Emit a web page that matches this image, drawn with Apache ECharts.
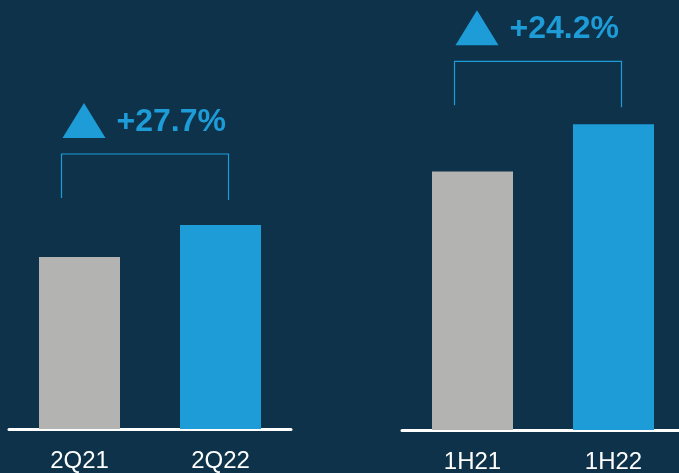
<!DOCTYPE html>
<html><head><meta charset="utf-8">
<script src="https://cdn.jsdelivr.net/npm/echarts@6/dist/echarts.min.js"></script>
<style>html,body{margin:0;padding:0;background:#0d3249;}#c{width:679px;height:473px;}</style>
</head><body><div id="c"></div>
<script>
const leftCategories = ['2Q21', '2Q22'];
const leftValues = [172, 204];
const rightCategories = ['1H21', '1H22'];
const rightValues = [258, 305];
const changeLabels = ['+27.7%', '+24.2%'];

const GRAY = '#b3b3b1', BLUE = '#1d9cd8', BG = '#0d3249';
const chart = echarts.init(document.getElementById('c'), null, {renderer: 'canvas'});
const axisCommon = {
  type: 'category',
  axisLine: {lineStyle: {color: '#ffffff', width: 3}},
  axisTick: {show: false},
  axisLabel: {color: '#ffffff', fontSize: 24, fontFamily: 'Liberation Sans, Arial, sans-serif', margin: 20}
};
const yCommon = {type: 'value', min: 0, max: 430, show: false, splitLine: {show: false}};
const option = {
  backgroundColor: BG,
  animation: false,
  grid: [
    {left: 9, width: 282, top: -1, bottom: 44, outerBoundsMode: 'none', containLabel: false},
    {left: 402, width: 282, top: -1, bottom: 43, outerBoundsMode: 'none', containLabel: false}
  ],
  xAxis: [
    Object.assign({gridIndex: 0, data: leftCategories}, axisCommon),
    Object.assign({gridIndex: 1, data: rightCategories}, axisCommon)
  ],
  yAxis: [Object.assign({gridIndex: 0}, yCommon), Object.assign({gridIndex: 1}, yCommon)],
  series: [
    {type: 'bar', xAxisIndex: 0, yAxisIndex: 0, barWidth: 81,
     data: leftValues.map((v, i) => ({value: v, itemStyle: {color: i === 0 ? GRAY : BLUE}}))},
    {type: 'bar', xAxisIndex: 1, yAxisIndex: 1, barWidth: 81,
     data: rightValues.map((v, i) => ({value: v, itemStyle: {color: i === 0 ? GRAY : BLUE}}))}
  ]
};
chart.setOption(option);

// Annotations placed relative to the bars via the chart's own scales
const groups = [
  {cats: leftCategories, vals: leftValues, label: changeLabels[0], xi: 0, yi: 0, gap: 71},
  {cats: rightCategories, vals: rightValues, label: changeLabels[1], xi: 1, yi: 1, gap: 63}
];
const graphics = [];
groups.forEach(g => {
  const p0 = chart.convertToPixel({xAxisIndex: g.xi, yAxisIndex: g.yi}, [g.cats[0], g.vals[0]]);
  const p1 = chart.convertToPixel({xAxisIndex: g.xi, yAxisIndex: g.yi}, [g.cats[1], g.vals[1]]);
  const topY = Math.min(p0[1], p1[1]) - g.gap;
  const x0 = p0[0] - 18, x1 = p1[0] + 8;
  graphics.push({
    type: 'polyline',
    shape: {points: [[x0, topY + 44], [x0, topY], [x1, topY], [x1, topY + 46]]},
    style: {stroke: BLUE, lineWidth: 1.2, fill: null}
  });
  const triBase = topY - 16, triTop = triBase - 35;
  graphics.push({
    type: 'polygon',
    shape: {points: [[x0 + 1, triBase], [x0 + 44, triBase], [x0 + 22.5, triTop]]},
    style: {fill: BLUE}
  });
  graphics.push({
    type: 'text',
    x: x0 + 55, y: triBase - 16,
    style: {text: g.label, fill: BLUE, font: 'bold 32px "Liberation Sans", Arial, sans-serif',
            textVerticalAlign: 'middle', verticalAlign: 'middle'}
  });
});
chart.setOption({graphic: graphics});
</script>
</body></html>
